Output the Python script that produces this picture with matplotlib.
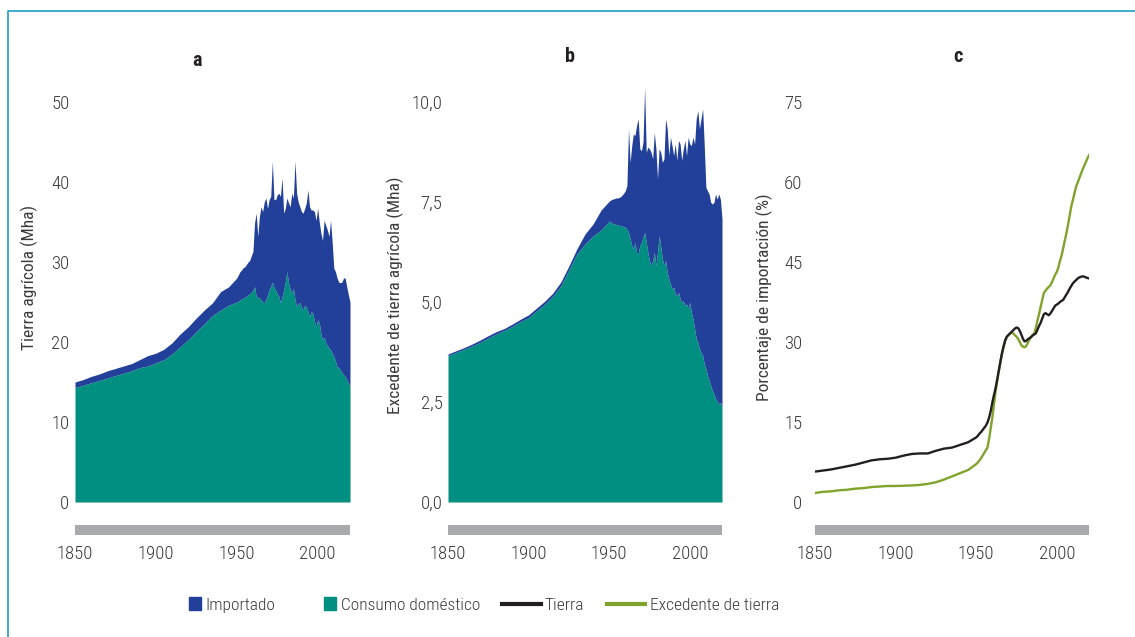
import matplotlib
matplotlib.use('Agg')  # headless backend
import matplotlib.pyplot as plt
from matplotlib import font_manager as fm
from matplotlib.lines import Line2D
from matplotlib.patches import Patch, Rectangle
from matplotlib.legend_handler import HandlerPatch
from matplotlib.ticker import FuncFormatter

# years: every 5 years up to 1950, then yearly
years = list(range(1850, 1951, 5)) + list(range(1951, 2021))

# panel a: agricultural land (Mha)
tierra_total = [
    15.0, 15.3, 15.7, 16.0, 16.4, 16.7, 17.0, 17.3, 17.8, 18.3, 18.6, 19.1, 19.9, 21.0, 21.9, 23.0, 24.0, 24.9, 26.3, 26.9, 28.0,
    28.4, 28.8, 29.0, 29.3, 29.4, 29.7, 30.0, 30.2, 30.8,
    31.3, 34.9, 36.1, 33.2, 35.7, 36.9, 36.3, 37.5, 38.0, 36.7,
    37.8, 38.2, 42.6, 37.8, 37.8, 38.4, 38.6, 38.2, 40.5, 36.1,
    36.7, 38.0, 37.4, 36.9, 38.6, 38.0, 42.6, 38.6, 37.5, 36.9,
    36.3, 36.1, 36.7, 37.4, 39.0, 36.9, 36.5, 36.5, 36.3, 35.2,
    36.7, 35.0, 33.6, 32.7, 35.2, 34.6, 34.0, 33.2, 35.2, 32.4,
    29.2, 28.8, 28.0, 27.5, 27.4, 27.5, 28.0, 28.0, 26.9, 25.9,
    25.0,
]
tierra_domestico = [
    14.3, 14.6, 14.9, 15.2, 15.5, 15.8, 16.1, 16.4, 16.8, 17.0, 17.4, 17.8, 18.5, 19.4, 20.3, 21.3, 22.3, 23.3, 24.0, 24.6, 25.0,
    25.1, 25.25, 25.4, 25.5, 25.6, 25.7, 25.9, 26.0, 26.2,
    26.5, 26.9, 25.7, 25.6, 25.5, 25.3, 25.0, 24.9, 25.3, 25.9,
    26.5, 27.0, 27.5, 26.8, 26.5, 26.0, 25.7, 24.9, 25.6, 26.5,
    27.5, 28.8, 27.4, 26.6, 26.1, 26.7, 25.3, 24.4, 24.8, 24.9,
    24.4, 24.0, 24.6, 24.4, 23.8, 23.2, 23.8, 23.6, 22.6, 21.9,
    22.8, 22.4, 21.0, 20.3, 20.6, 19.9, 19.5, 19.3, 19.0, 18.6,
    18.2, 17.6, 16.9, 16.8, 16.5, 16.2, 15.9, 15.7, 15.3, 14.9,
    14.4,
]

# panel b: agricultural land surplus (Mha)
excedente_total = [
    3.70, 3.78, 3.86, 3.95, 4.05, 4.16, 4.26, 4.34, 4.45, 4.57, 4.68, 4.85, 5.02, 5.22, 5.50, 5.90, 6.33, 6.70, 6.95, 7.30, 7.52,
    7.55, 7.57, 7.58, 7.60, 7.60, 7.61, 7.63, 7.67, 7.72,
    7.78, 7.91, 9.33, 8.49, 8.91, 9.20, 9.16, 9.41, 9.58, 8.83,
    8.78, 9.00, 10.37, 8.74, 8.87, 8.83, 8.74, 8.58, 9.24, 8.83,
    8.08, 8.83, 8.74, 8.49, 8.58, 9.58, 9.33, 8.66, 9.12, 8.91,
    8.66, 8.95, 8.54, 9.04, 8.95, 8.54, 8.83, 9.04, 8.66, 9.12,
    8.95, 8.91, 9.12, 8.95, 9.58, 9.78, 9.33, 9.58, 9.83, 8.91,
    7.87, 7.78, 7.70, 7.49, 7.45, 7.49, 7.70, 7.57, 7.70, 7.57,
    7.08,
]
excedente_domestico = [
    3.66, 3.74, 3.82, 3.90, 3.99, 4.10, 4.20, 4.29, 4.39, 4.51, 4.61, 4.78, 4.94, 5.14, 5.40, 5.80, 6.20, 6.45, 6.65, 6.80, 7.02,
    7.00, 6.96, 6.95, 6.94, 6.93, 6.92, 6.91, 6.90, 6.88,
    6.87, 6.82, 6.74, 6.58, 6.41, 6.33, 6.49, 6.24, 6.20, 6.41,
    6.49, 6.62, 6.74, 6.49, 6.24, 6.03, 5.91, 6.03, 6.24, 5.91,
    6.24, 6.66, 6.37, 6.08, 5.91, 6.03, 5.74, 5.58, 5.45, 5.32,
    5.37, 5.20, 5.16, 5.24, 5.08, 4.99, 5.03, 4.91, 4.95, 4.83,
    4.99, 4.74, 4.58, 4.33, 4.08, 4.00, 3.83, 3.74, 3.66, 3.45,
    3.33, 3.16, 3.04, 2.91, 2.78, 2.70, 2.58, 2.53, 2.45, 2.49,
    2.37,
]

# panel c: import share (%)
pct_tierra = [
    5.7, 5.9, 6.1, 6.4, 6.7, 7.0, 7.4, 7.8, 8.0, 8.1, 8.3, 8.7, 9.0, 9.1, 9.1, 9.6, 10.0, 10.2, 10.7, 11.2, 12.1,
    12.4, 12.8, 13.1, 13.5, 13.9, 14.3, 14.9, 15.8, 17.0,
    18.6, 20.0, 21.3, 22.9, 24.6, 26.3, 27.9, 29.2, 30.3, 31.0,
    31.3, 31.6, 31.9, 32.2, 32.5, 32.7, 32.6, 32.1, 31.4, 30.6,
    30.1, 30.2, 30.5, 30.7, 30.9, 31.2, 31.4, 31.6, 32.3, 33.0,
    33.6, 34.4, 35.2, 35.4, 35.2, 35.0, 35.3, 35.8, 36.3, 36.8,
    37.0, 37.2, 37.5, 37.7, 37.9, 38.4, 38.9, 39.4, 40.0, 40.5,
    41.0, 41.3, 41.6, 41.9, 42.1, 42.2, 42.3, 42.25, 42.1, 42.0,
    41.9,
]
pct_excedente = [
    1.7, 1.9, 2.0, 2.2, 2.3, 2.5, 2.6, 2.8, 2.9, 3.0, 3.0, 3.05, 3.1, 3.2, 3.4, 3.7, 4.2, 4.8, 5.4, 6.0, 7.1,
    7.4, 7.8, 8.2, 8.7, 9.2, 9.7, 10.2, 11.8, 13.8,
    15.8, 18.2, 20.6, 22.6, 24.4, 26.1, 27.7, 29.0, 30.2, 30.9,
    31.3, 31.6, 31.75, 31.6, 31.3, 31.0, 30.6, 30.0, 29.4, 29.1,
    29.0, 29.2, 29.8, 30.4, 30.9, 31.3, 31.6, 32.6, 34.0, 35.2,
    36.6, 37.9, 39.2, 39.6, 40.0, 40.3, 40.6, 41.2, 41.9, 42.6,
    43.1, 44.0, 45.2, 46.2, 47.6, 49.0, 50.4, 52.0, 53.7, 55.4,
    56.6, 57.9, 59.1, 59.9, 60.7, 61.5, 62.3, 63.0, 63.7, 64.4,
    65.0,
]

x_ticks = [1850, 1900, 1950, 2000]

BLUE = '#22409a'
TEAL = '#008f80'
BLACK = '#231f20'
GREEN = '#80a32c'
GRAY = '#a7a9ac'
TEXT = '#3a3a3a'
FRAME = '#1f9cc4'

# pick a narrow font if one is installed
names = {f.name for f in fm.fontManager.ttflist}
family = 'DejaVu Sans'
for cand in ['Roboto Condensed', 'Liberation Sans Narrow', 'Open Sans Condensed', 'DejaVu Sans Condensed']:
    if cand in names:
        family = cand
        break
plt.rcParams['font.family'] = [family, 'DejaVu Sans']
plt.rcParams['font.stretch'] = 'condensed'
plt.rcParams['font.weight'] = 'light'

W, H = 1135, 637
fig = plt.figure(figsize=(W / 100, H / 100), dpi=100)


def make_axes(left, right):
    return fig.add_axes([left / W, 1 - 502 / H, (right - left) / W, 422 / H])


def style(ax, ypad):
    for s in ['top', 'right', 'left']:
        ax.spines[s].set_visible(False)
    sp = ax.spines['bottom']
    sp.set_position(('outward', 20))
    sp.set_linewidth(7.2)
    sp.set_color(GRAY)
    sp.set_capstyle('butt')
    ax.set_xlim(1850, 2020)
    ax.set_xticks(x_ticks)
    ax.tick_params(axis='both', length=0, labelsize=13.5, colors=TEXT)
    ax.tick_params(axis='x', pad=11)
    ax.tick_params(axis='y', pad=ypad)


# a
ax1 = make_axes(75, 350)
ax1.fill_between(years, 0, tierra_domestico, color=TEAL, lw=0)
ax1.fill_between(years, tierra_domestico, tierra_total, color=BLUE, lw=0)
ax1.set_ylim(0, 52.75)
ax1.set_yticks([0, 10, 20, 30, 40, 50])
style(ax1, 4)
ax1.set_ylabel('Tierra agrícola (Mha)', fontsize=12.5, color=TEXT)
ax1.yaxis.set_label_coords(-0.135, 0.533)
ax1.text(0.444, 1.047, 'a', transform=ax1.transAxes, ha='center', va='center',
         fontsize=14.5, fontweight='bold', color='#231f20')

# b
ax2 = make_axes(448, 722)
ax2.fill_between(years, 0, excedente_domestico, color=TEAL, lw=0)
ax2.fill_between(years, excedente_domestico, excedente_total, color=BLUE, lw=0)
ax2.set_ylim(0, 10.55)
ax2.set_yticks([0, 2.5, 5, 7.5, 10])
ax2.yaxis.set_major_formatter(FuncFormatter(lambda v, _: f'{v:.1f}'.replace('.', ',')))
style(ax2, 4)
ax2.set_ylabel('Excedente de tierra agrícola (Mha)', fontsize=12.5, color=TEXT)
ax2.yaxis.set_label_coords(-0.16, 0.49)
ax2.text(0.445, 1.055, 'b', transform=ax2.transAxes, ha='center', va='center',
         fontsize=14.5, fontweight='bold', color='#231f20')

# c
ax3 = make_axes(815, 1089)
ax3.plot(years, pct_excedente, color=GREEN, lw=1.7)
ax3.plot(years, pct_tierra, color=BLACK, lw=1.7)
ax3.set_ylim(0, 79.1)
ax3.set_yticks([0, 15, 30, 45, 60, 75])
style(ax3, 9)
ax3.set_ylabel('Porcentaje de importación (%)', fontsize=12.5, color=TEXT)
ax3.yaxis.set_label_coords(-0.153, 0.486)
ax3.text(0.522, 1.055, 'c', transform=ax3.transAxes, ha='center', va='center',
         fontsize=14.5, fontweight='bold', color='#231f20')


def square(legend, orig_handle, xdescent, ydescent, width, height, fontsize):
    s = height * 1.0
    return Rectangle((width - xdescent - s, -ydescent + (height - s) / 2), s, s)


handles = [Patch(color=BLUE), Patch(color=TEAL),
           Line2D([], [], color=BLACK, lw=3), Line2D([], [], color=GREEN, lw=3)]
labels = ['Importado', 'Consumo doméstico', 'Tierra', 'Excedente de tierra']
leg = fig.legend(handles, labels, loc='center', bbox_to_anchor=(471 / W, 1 - 605 / H),
                 ncol=4, frameon=False, handlelength=2.2, handletextpad=0.25,
                 columnspacing=1.3, fontsize=12.5,
                 handler_map={Patch: HandlerPatch(patch_func=square)})
for t in leg.get_texts():
    t.set_color(TEXT)

# frame lines (top and left)
fig.add_artist(Line2D([8 / W, 8 / W, 1], [0, 1 - 11 / H, 1 - 11 / H], color=FRAME, lw=1.2))

fig.savefig('out.png', dpi=100)
